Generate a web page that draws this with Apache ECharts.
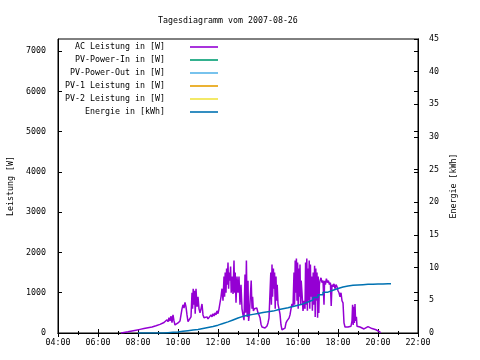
<!DOCTYPE html>
<html><head><meta charset="utf-8">
<script src="https://cdn.jsdelivr.net/npm/echarts@6/dist/echarts.min.js"></script>
<style>html,body{margin:0;padding:0;background:#fff}#c{width:480px;height:360px}</style>
</head><body><div id="c"></div>
<script>
const titleText = 'Tagesdiagramm vom 2007-08-26';
const leftAxisName = 'Leistung [W]';
const rightAxisName = 'Energie [kWh]';
const seriesNames = ['AC Leistung in [W]','PV-Power-In in [W]','PV-Power-Out in [W]','PV-1 Leistung in [W]','PV-2 Leistung in [W]','Energie in [kWh]'];
const seriesColors = ['#9400D3','#009E73','#56B4E9','#E69F00','#F0E442','#0072B2'];

const acHours = [7.15,7.3,7.5,7.7,7.9,8.1,8.3,8.5,8.7,8.9,9.0,9.1,9.2,9.3,9.35,9.4,9.45,9.5,9.55,9.6,9.65,9.7,9.75,9.8,9.85,9.9,9.95,
10.0,10.05,10.1,10.15,10.2,10.25,10.3,10.35,10.4,10.45,10.5,10.55,10.6,10.65,10.7,10.73,10.76,10.8,10.83,10.86,10.9,10.95,
11.0,11.05,11.1,11.15,11.2,11.25,11.3,11.35,11.4,11.45,11.5,11.55,11.6,11.65,11.7,11.75,11.8,11.85,11.9,11.95,
12.0,12.05,12.1,12.15,12.2,12.25,12.3,12.33,12.36,12.4,12.43,12.46,12.5,12.53,12.56,12.6,12.63,12.66,12.7,12.75,12.8,12.83,12.86,12.9,12.95,
13.0,13.05,13.1,13.15,13.2,13.25,13.3,13.35,13.38,13.42,13.46,13.5,13.53,13.57,13.62,13.66,13.7,13.73,13.77,13.82,13.88,13.94,
14.0,14.05,14.1,14.15,14.2,14.25,14.3,14.35,14.4,14.45,14.5,14.55,14.6,14.64,14.67,14.7,14.73,14.77,14.8,14.83,14.86,14.9,14.93,14.96,
15.0,15.05,15.1,15.15,15.2,15.25,15.3,15.35,15.4,15.45,15.5,15.55,15.6,15.65,15.7,15.75,15.8,15.83,15.86,15.89,15.92,15.95,15.98,
16.01,16.04,16.07,16.1,16.13,16.16,16.2,16.25,16.3,16.35,16.38,16.41,16.44,16.47,16.5,16.53,16.56,16.59,16.62,16.65,16.68,16.72,16.76,16.8,16.83,16.86,16.89,16.92,16.95,16.98,
17.01,17.04,17.07,17.1,17.15,17.2,17.25,17.3,17.33,17.37,17.42,17.47,17.52,17.57,17.62,17.66,17.7,17.75,17.8,17.85,17.9,17.95,
18.0,18.05,18.1,18.15,18.2,18.25,18.3,18.35,18.4,18.45,18.5,18.55,18.6,18.65,18.7,18.73,18.76,18.79,18.82,18.85,18.88,18.92,18.95,
19.0,19.1,19.2,19.3,19.4,19.5,19.55,19.6,19.7,19.8,19.9,20.0,20.08,20.13];
const acWatts = [0,15,30,50,70,90,110,130,150,180,200,215,240,260,300,250,330,280,380,300,420,260,450,300,200,170,230,
250,260,300,450,600,700,620,760,650,450,280,250,270,400,1000,600,1100,700,1050,480,1100,650,
900,600,500,600,720,450,380,420,350,400,350,330,380,450,400,480,420,500,450,550,
480,600,750,900,1100,800,1400,900,1500,1000,1600,1200,1750,1100,1500,1300,1650,1000,1400,970,1800,1000,1500,750,1400,
1000,1400,700,1200,600,450,320,1450,500,1800,400,1300,300,480,450,1300,600,900,550,600,580,620,
500,450,380,220,150,130,140,125,150,175,250,370,400,1500,700,1700,900,1600,1100,1500,600,1400,800,1200,
720,600,470,200,80,60,90,120,250,300,330,370,450,600,720,650,1500,700,1800,1000,1850,800,1750,
600,1600,900,1700,700,1300,1000,550,800,600,1750,700,1850,550,1600,800,1800,600,1700,900,1400,550,1500,700,1670,400,1600,800,1500,380,
1400,500,1200,1300,1370,1250,1300,700,1300,1200,1350,1250,1300,1200,1250,670,1200,1150,1220,1100,1200,1150,
1050,1000,900,1000,800,750,250,150,180,130,150,160,140,170,300,700,200,650,250,720,300,400,170,
150,150,120,100,120,160,175,160,110,100,80,70,30,0];

const energyHours = [8.0,8.25,8.5,8.75,9.0,9.25,9.5,9.75,10.0,10.25,10.5,10.75,11.0,11.25,11.5,11.75,12.0,12.25,12.5,12.75,13.0,13.25,13.5,13.75,14.0,14.25,14.5,14.75,15.0,15.25,15.5,15.75,16.0,16.25,16.5,16.75,17.0,17.25,17.5,17.75,18.0,18.25,18.5,18.75,19.0,19.25,19.5,19.75,20.0,20.25,20.5,20.65];
const energyKwh = [0,0,0,0,0,0.05,0.1,0.15,0.25,0.35,0.45,0.55,0.7,0.85,1.0,1.2,1.45,1.7,2.0,2.3,2.55,2.7,2.85,3.0,3.15,3.25,3.35,3.55,3.7,3.85,4.05,4.25,4.45,4.75,5.05,5.45,5.85,6.25,6.55,6.8,7.05,7.2,7.3,7.35,7.4,7.45,7.45,7.5,7.5,7.55,7.55,7.55];

const FONT = '"DejaVu Sans Mono", monospace';
const FS = 8.3;
const txt = {fontFamily: FONT, fontSize: FS, color: '#000', fontWeight: 'normal'};
const black = {color: '#000', width: 1};
function hh(v){ return String(v).padStart(2,'0') + ':00'; }
function plain(v){ return String(v); }

const chart = echarts.init(document.getElementById('c'), null, {renderer:'canvas'});
const xBase = {type:'value', min:4, max:22, interval:2,
  axisLine:{show:true, lineStyle:black},
  axisTick:{show:true, inside:true, length:4, lineStyle:black},
  minorTick:{show:true, splitNumber:2, length:2, lineStyle:black},
  splitLine:{show:false}, minorSplitLine:{show:false}};
const series = seriesNames.map((n,i)=>({
  name:n, type:'line', symbol:'none', showSymbol:false,
  lineStyle:{width:1.5, color:seriesColors[i]}, itemStyle:{color:seriesColors[i]},
  xAxisIndex:0, yAxisIndex:0, data:[]
}));
series[0].data = acHours.map((h,i)=>[h, acWatts[i]]);
series[5].yAxisIndex = 1;
series[5].step = 'end';
series[5].data = energyHours.map((h,i)=>[h, energyKwh[i]]);

chart.setOption({
  animation:false,
  backgroundColor:'#fff',
  title:{text:titleText, left:153, top:12, textStyle:{...txt}},
  grid:{left:58, right:62, top:39, bottom:27, show:true, borderColor:'#000', borderWidth:1,
        backgroundColor:'transparent', containLabel:false, outerBoundsMode:'none'},
  legend:{data:seriesNames.map(n=>({name:n, icon:'rect'})), orient:'vertical', right:262, top:42, align:'right',
    itemWidth:28, itemHeight:1.6, itemGap:3, padding:0,
    itemStyle:{borderWidth:0},
    textStyle:{...txt, padding:[0,20,0,0], lineHeight:10}},
  xAxis:[
    Object.assign({}, xBase, {position:'bottom', axisLabel:{...txt, margin:6, formatter:hh}}),
    Object.assign({}, xBase, {position:'top', axisLabel:{show:false}})
  ],
  yAxis:[
    {type:'value', min:0, max:7300, interval:1000, position:'left',
     name:leftAxisName, nameLocation:'middle', nameGap:42, nameRotate:90, nameTextStyle:{...txt},
     axisLine:{show:true, lineStyle:black}, axisTick:{show:true, inside:true, length:4, lineStyle:black},
     axisLabel:{...txt, margin:12, showMaxLabel:false, formatter:plain}, splitLine:{show:false}},
    {type:'value', min:0, max:45, interval:5, position:'right',
     name:rightAxisName, nameLocation:'middle', nameGap:30, nameRotate:90, nameTextStyle:{...txt},
     axisLine:{show:true, lineStyle:black}, axisTick:{show:true, inside:true, length:4, lineStyle:black},
     axisLabel:{...txt, margin:11, formatter:plain}, splitLine:{show:false}},
    {type:'value', min:0, max:7300, interval:1000, position:'right',
     axisLine:{show:true, lineStyle:black}, axisTick:{show:true, inside:true, length:4, lineStyle:black},
     axisLabel:{show:false}, splitLine:{show:false}}
  ],
  series: series
});
</script></body></html>
